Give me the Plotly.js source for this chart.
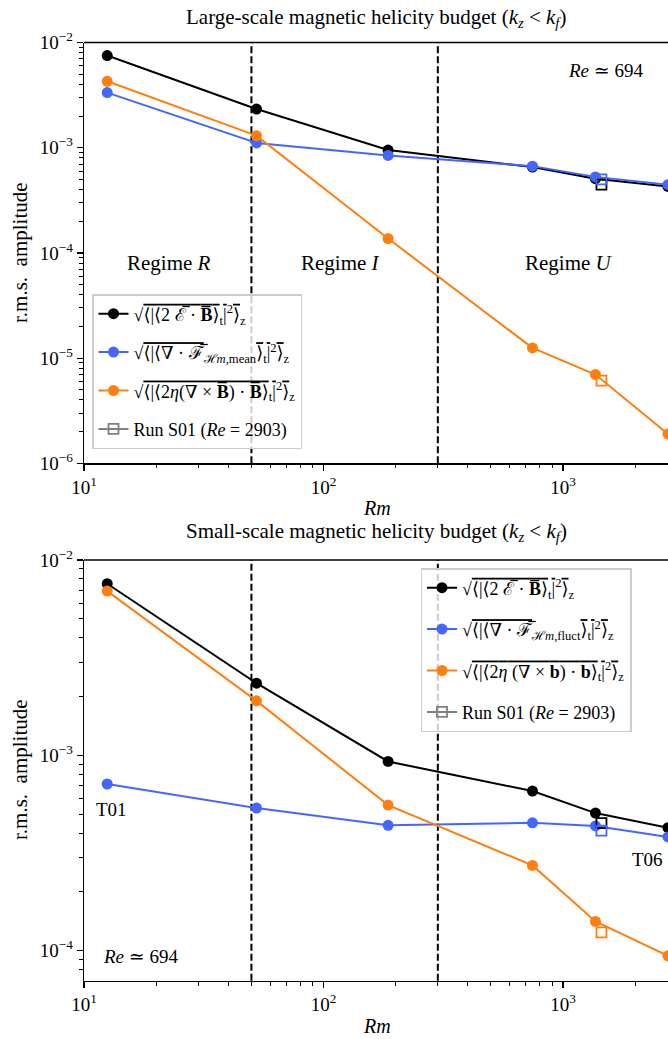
<!DOCTYPE html>
<html>
<head>
<meta charset="utf-8">
<script src="https://cdn.plot.ly/plotly-3.0.1.min.js"></script>
<style>html,body{margin:0;padding:0;background:#fff;overflow:hidden}</style>
</head>
<body>
<div id="chart" style="width:668px;height:1039px"></div>
<script>
// ---- data ----
const rm = [12.5, 52.5, 186, 745, 1365, 2740];
const rmS01 = [1446];
// large-scale budget
const lsEmf  = [7.52e-3, 2.33e-3, 9.5e-4, 6.55e-4, 5.07e-4, 4.28e-4];
const lsFlux = [3.34e-3, 1.11e-3, 8.45e-4, 6.68e-4, 5.28e-4, 4.45e-4];
const lsDiss = [4.28e-3, 1.30e-3, 1.37e-4, 1.25e-5, 6.98e-6, 1.90e-6];
const lsS01  = [4.45e-4, 5.0e-4, 6.12e-6];
// small-scale budget
const ssEmf  = [7.56e-3, 2.34e-3, 9.3e-4, 6.56e-4, 5.06e-4, 4.26e-4];
const ssFlux = [7.13e-4, 5.37e-4, 4.38e-4, 4.51e-4, 4.35e-4, 3.82e-4];
const ssDiss = [6.93e-3, 1.90e-3, 5.56e-4, 2.73e-4, 1.41e-4, 9.4e-5];
const ssS01  = [4.5e-4, 4.12e-4, 1.24e-4];
const regimeBounds = [50, 300];
const xTickVals = [10, 100, 1000];
const xTickText = ['10<sup>1</sup>', '10<sup>2</sup>', '10<sup>3</sup>'];
const yTickValsTop = [1e-6, 1e-5, 1e-4, 1e-3, 1e-2];
const yTickTextTop = ['10<sup>−6</sup>', '10<sup>−5</sup>', '10<sup>−4</sup>', '10<sup>−3</sup>', '10<sup>−2</sup>'];
const yTickValsBot = [1e-4, 1e-3, 1e-2];
const yTickTextBot = ['10<sup>−4</sup>', '10<sup>−3</sup>', '10<sup>−2</sup>'];

// ---- style ----
const C_BLACK = '#000000', C_BLUE = '#4466ff', C_ORANGE = '#ff7f0e', C_GRAY = '#808080';
const FONT = 'Liberation Serif, DejaVu Serif, serif';
const ov = s => '<span style="text-decoration:overline">' + s + '</span>';

function minorVals(lo, hi) {
  const v = [];
  for (let e = lo; e <= hi; e++) for (let m = 2; m <= 9; m++) v.push(m * Math.pow(10, e));
  return v;
}

// sqrt vinculum drawn as overline over the main-line parts
const tail = ov('⟩') + '<sub>t</sub>' + ov('|') + '<sup>2</sup>' + ov('⟩') + '<sub>z</sub>';
const labEmf = '√' + ov('⟨|⟨2 ℰ̅ · <b>B̅</b>') + tail;
const labFluxMean = '√' + ov('⟨|⟨∇ · ℱ̅') + '<sub>ℋ<i>m</i>,mean</sub>' + tail;
const labFluxFluct = '√' + ov('⟨|⟨∇ · ℱ̅') + '<sub>ℋ<i>m</i>,fluct</sub>' + tail;
const labDissMean = '√' + ov('⟨|⟨2<i>η</i>(∇ × <b>B̅</b>) · <b>B̅</b>') + tail;
const labDissFluct = '√' + ov('⟨|⟨2<i>η</i> (∇ × <b>b</b>) · <b>b</b>') + tail;
const labS01 = 'Run S01 (<i>Re</i> = 2903)';

function series(x, y, color, name, xa, ya, leg, grp) {
  return {x: x, y: y, type: 'scatter', mode: 'lines+markers', name: name,
    line: {color: color, width: 2}, marker: {color: color, size: 11, symbol: 'circle'},
    xaxis: xa, yaxis: ya, legend: leg, legendgroup: grp, showlegend: true};
}
function s01(xv, yv, color, xa, ya) {
  return {x: xv, y: [yv], type: 'scatter', mode: 'markers', showlegend: false,
    marker: {symbol: 'square-open', size: 10, color: color, line: {width: 1.8, color: color}},
    xaxis: xa, yaxis: ya, hoverinfo: 'skip'};
}
function s01Legend(leg, grp, xa, ya) {
  return {x: [null], y: [null], type: 'scatter', mode: 'lines+markers', name: labS01,
    line: {color: C_GRAY, width: 2}, marker: {symbol: 'square-open', size: 10, color: C_GRAY, line: {width: 1.8, color: C_GRAY}},
    xaxis: xa, yaxis: ya, legend: leg, legendgroup: grp, showlegend: true};
}

const traces = [
  series(rm, lsEmf, C_BLACK, labEmf, 'x', 'y', 'legend', 'a1'),
  series(rm, lsFlux, C_BLUE, labFluxMean, 'x', 'y', 'legend', 'a2'),
  series(rm, lsDiss, C_ORANGE, labDissMean, 'x', 'y', 'legend', 'a3'),
  s01(rmS01, lsS01[0], C_BLACK, 'x', 'y'),
  s01(rmS01, lsS01[1], C_BLUE, 'x', 'y'),
  s01(rmS01, lsS01[2], C_ORANGE, 'x', 'y'),
  s01Legend('legend', 'a4', 'x', 'y'),
  series(rm, ssEmf, C_BLACK, labEmf, 'x2', 'y2', 'legend2', 'b1'),
  series(rm, ssFlux, C_BLUE, labFluxFluct, 'x2', 'y2', 'legend2', 'b2'),
  series(rm, ssDiss, C_ORANGE, labDissFluct, 'x2', 'y2', 'legend2', 'b3'),
  s01(rmS01, ssS01[0], C_BLACK, 'x2', 'y2'),
  s01(rmS01, ssS01[1], C_BLUE, 'x2', 'y2'),
  s01(rmS01, ssS01[2], C_ORANGE, 'x2', 'y2'),
  s01Legend('legend2', 'b4', 'x2', 'y2')
];

const W = 668, H = 1039;
const plotL = 84;
const topY0 = 42.5, topY1 = 463.3, botY0 = 560, botY1 = 980.7;
const xDom = [plotL / W, 1];
const yDomTop = [1 - topY1 / H, 1 - topY0 / H];
const yDomBot = [1 - botY1 / H, 1 - botY0 / H];
const xRange = [1, 3.438];

function xAxis(anchor, dom) {
  return {type: 'log', range: xRange, domain: dom, anchor: anchor,
    tickmode: 'array', tickvals: xTickVals, ticktext: xTickText,
    ticks: 'outside', ticklen: 6, tickwidth: 1.2, tickcolor: '#000',
    showline: true, linecolor: '#000', linewidth: 1.4, mirror: false,
    showgrid: false, zeroline: false,
    tickfont: {family: FONT, size: 19, color: '#000'},
    minor: {tickmode: 'array', tickvals: minorVals(1, 3), ticks: 'outside', ticklen: 3.5, tickwidth: 1, tickcolor: '#000', showgrid: false}};
}
function yAxis(anchor, dom, rng, tv, tt, mlo, mhi) {
  return {type: 'log', range: rng, domain: dom, anchor: anchor,
    tickmode: 'array', tickvals: tv, ticktext: tt,
    ticks: 'outside', ticklen: 6, tickwidth: 1.2, tickcolor: '#000',
    showline: true, linecolor: '#000', linewidth: 1.4, mirror: false,
    showgrid: false, zeroline: false,
    tickfont: {family: FONT, size: 19, color: '#000'},
    minor: {tickmode: 'array', tickvals: minorVals(mlo, mhi), ticks: 'outside', ticklen: 3.5, tickwidth: 1, tickcolor: '#000', showgrid: false}};
}

const dashLine = (xv, xr, yr) => ({type: 'line', xref: xr, yref: yr + ' domain', x0: xv, x1: xv, y0: 0, y1: 1,
  line: {color: '#000', width: 2, dash: '7px,3px'}, layer: 'below'});
const topSpine = (xr, yr) => ({type: 'line', xref: xr + ' domain', yref: yr + ' domain', x0: 0, x1: 1, y0: 1, y1: 1,
  line: {color: '#000', width: 1.4}});

const ann = (text, xr, yr, x, y, size, extra) => Object.assign({text: text, xref: xr, yref: yr, x: x, y: y,
  showarrow: false, font: {family: FONT, size: size, color: '#000'}, xanchor: 'center', yanchor: 'middle'}, extra || {});

const layout = {
  width: W, height: H,
  margin: {l: 0, r: 0, t: 0, b: 0},
  paper_bgcolor: '#fff', plot_bgcolor: '#fff',
  font: {family: FONT, color: '#000'},
  xaxis: xAxis('y', xDom),
  yaxis: yAxis('x', yDomTop, [-6, -2], yTickValsTop, yTickTextTop, -6, -3),
  xaxis2: xAxis('y2', xDom),
  yaxis2: yAxis('x2', yDomBot, [-4.154, -2], yTickValsBot, yTickTextBot, -5, -3),
  legend: {x: 92 / W, y: 1 - 294 / H, xanchor: 'left', yanchor: 'top', xref: 'paper', yref: 'paper',
    bgcolor: 'rgba(255,255,255,0.8)', bordercolor: '#cccccc', borderwidth: 1.5,
    font: {family: FONT, size: 18, color: '#000'}, tracegroupgap: 12, itemwidth: 30},
  legend2: {x: 420.5 / W, y: 1 - 568 / H, xanchor: 'left', yanchor: 'top', xref: 'paper', yref: 'paper',
    bgcolor: 'rgba(255,255,255,0.8)', bordercolor: '#cccccc', borderwidth: 1.5,
    font: {family: FONT, size: 18, color: '#000'}, tracegroupgap: 15, itemwidth: 30},
  shapes: [
    dashLine(regimeBounds[0], 'x', 'y'), dashLine(regimeBounds[1], 'x', 'y'),
    dashLine(regimeBounds[0], 'x2', 'y2'), dashLine(regimeBounds[1], 'x2', 'y2'),
    topSpine('x', 'y'), topSpine('x2', 'y2')
  ],
  annotations: [
    ann('Large-scale magnetic helicity budget (<i>k<sub>z</sub></i> &lt; <i>k<sub>f</sub></i>)', 'paper', 'paper', 376 / W, 1 - 18 / H, 21),
    ann('Small-scale magnetic helicity budget (<i>k<sub>z</sub></i> &lt; <i>k<sub>f</sub></i>)', 'paper', 'paper', 376 / W, 1 - 532 / H, 21),
    ann('<i>Rm</i>', 'paper', 'paper', 377 / W, 1 - 508 / H, 20),
    ann('<i>Rm</i>', 'paper', 'paper', 377 / W, 1 - 1026 / H, 20),
    ann('r.m.s.  amplitude', 'paper', 'paper', 20 / W, 1 - 253 / H, 21, {textangle: -90}),
    ann('r.m.s.  amplitude', 'paper', 'paper', 20 / W, 1 - 770 / H, 21, {textangle: -90}),
    ann('<i>Re</i> ≃ 694', 'x domain', 'y domain', 0.893, 0.933, 19),
    ann('Regime <i>R</i>', 'x domain', 'y domain', 0.146, 0.4767, 21),
    ann('Regime <i>I</i>', 'x domain', 'y domain', 0.4397, 0.4767, 21),
    ann('Regime <i>U</i>', 'x domain', 'y domain', 0.830, 0.4767, 21),
    ann('T01', 'x2 domain', 'y2 domain', 0.0476, 0.4058, 19),
    ann('T06', 'x2 domain', 'y2 domain', 0.965, 0.287, 19),
    ann('<i>Re</i> ≃ 694', 'x2 domain', 'y2 domain', 0.0959, 0.057, 19)
  ]
};

Plotly.newPlot('chart', traces, layout, {staticPlot: true, displayModeBar: false});
</script>
</body>
</html>
